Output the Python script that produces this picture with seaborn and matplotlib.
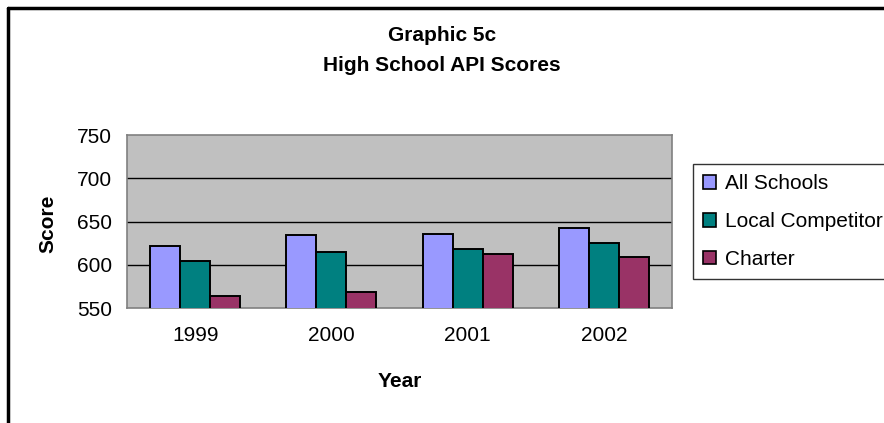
import matplotlib
matplotlib.use("Agg")
import matplotlib.pyplot as plt
import matplotlib.patches as mpatches
from matplotlib.lines import Line2D
import seaborn as sns
import pandas as pd

years = ["1999", "2000", "2001", "2002"]
series = ["All Schools", "Local Competitor", "Charter"]
all_schools = [622, 634, 636, 643]
local_competitor = [604, 615, 618, 625]
charter = [564, 569, 613, 609]
colors = ["#9999FF", "#008080", "#993366"]

df = pd.DataFrame({
    "Year": years * 3,
    "Series": [s for s in series for _ in years],
    "Score": all_schools + local_competitor + charter,
})

sns.set_theme(style="white")
plt.rcParams["font.family"] = ["Liberation Sans", "DejaVu Sans"]
plt.rcParams["text.color"] = "black"
plt.rcParams["legend.labelcolor"] = "black"

FS = 15
W, H = 884, 423
fig = plt.figure(figsize=(W / 100, H / 100), dpi=100)
ax = fig.add_axes([127 / W, 1 - 308 / H, (672 - 127) / W, (308 - 135) / H])
ax.set_facecolor("#C0C0C0")

sns.barplot(data=df, x="Year", y="Score", hue="Series", hue_order=series,
            palette=colors, width=0.66, gap=0, edgecolor="black", linewidth=1.4,
            saturation=1, legend=False, ax=ax, zorder=3)

ax.set_ylim(550, 750)
ax.set_xlim(-0.5, 3.5)
ax.set_yticks([550, 600, 650, 700, 750])
for y in [600, 650, 700]:
    ax.axhline(y, color="black", lw=1, zorder=1)

ax.set_xticks(range(4))
ax.set_xticklabels(years)
ax.set_xticks([0.5, 1.5, 2.5, 3.5], minor=True)
ax.tick_params(axis="x", which="major", length=0, pad=13, labelsize=FS)
ax.tick_params(axis="x", which="minor", length=3.6, width=1, color="#808080", direction="out")
ax.tick_params(axis="y", length=5, width=1, color="black", direction="out", pad=6, labelsize=FS)
ax.tick_params(axis="both", labelcolor="black")
for s in ax.spines.values():
    s.set_color("#808080")
    s.set_linewidth(1.2)
ax.set_xlabel("")
ax.set_ylabel("")

fig.text(48 / W, 1 - 224 / H, "Score", rotation=90, ha="center", va="center",
         fontsize=FS, fontweight="bold", color="black")
fig.text(400 / W, 1 - 387 / H, "Year", ha="center", va="baseline",
         fontsize=FS, fontweight="bold", color="black")
fig.text(0.5, 1 - 41 / H, "Graphic 5c", ha="center", va="baseline",
         fontsize=FS, fontweight="bold", color="black")
fig.text(0.5, 1 - 71 / H, "High School API Scores", ha="center", va="baseline",
         fontsize=FS, fontweight="bold", color="black")

handles = [mpatches.Patch(facecolor=c, edgecolor="black", linewidth=1.2) for c in colors]
leg = fig.legend(handles, series, loc="upper left",
                 bbox_to_anchor=(693 / W, 1 - 164 / H), frameon=True,
                 fontsize=FS, handlelength=0.62, handleheight=0.62, handletextpad=0.4,
                 labelspacing=0.9, borderpad=0.5, borderaxespad=0, fancybox=False)
leg.get_frame().set_edgecolor("black")
leg.get_frame().set_linewidth(1)
for t in leg.get_texts():
    t.set_color("black")

# outer chart border (top and left edges)
fig.add_artist(Line2D([8 / W, 1], [1 - 8 / H, 1 - 8 / H], color="black", lw=2.5,
                      transform=fig.transFigure))
fig.add_artist(Line2D([8 / W, 8 / W], [0, 1 - 8 / H], color="black", lw=2.5,
                      transform=fig.transFigure))

fig.savefig("out.png", dpi=100)
